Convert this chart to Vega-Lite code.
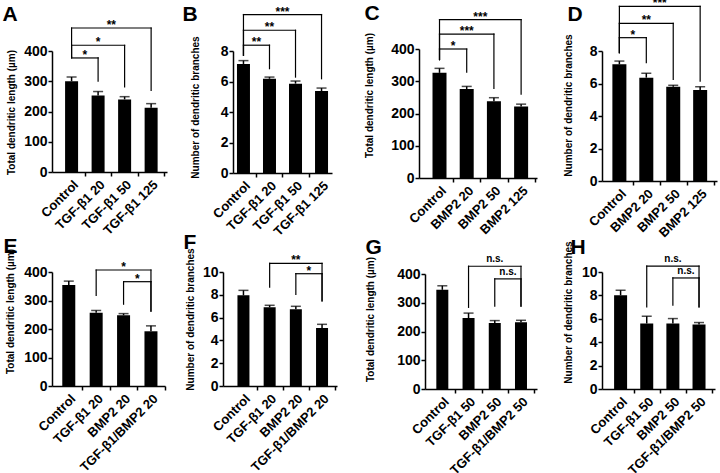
{
"$schema": "https://vega.github.io/schema/vega-lite/v6.json",
"padding": {"left": 2, "top": -3, "right": 2, "bottom": 2},
"config": {
  "font": "Liberation Sans",
  "view": {"stroke": null},
  "axis": {"domainColor": "black", "domainWidth": 1.5, "tickColor": "black", "tickWidth": 1.5, "tickSize": 4, "labelColor": "black", "labelFontWeight": "bold", "titleColor": "black", "titleFontWeight": "bold", "titleFontSize": 10, "grid": false, "labelOverlap": false, "tickCount": 20},
  "axisY": {"labelFontSize": 14, "labelPadding": 1, "titleBaseline": "middle", "titleAlign": "center", "titleAngle": 270, "labelOverlap": false, "tickCount": 20},
  "axisX": {"labelFontSize": 13, "labelAngle": -45, "labelAlign": "right", "labelBaseline": "top", "labelPadding": 2, "labelOverlap": false, "tickCount": 20}
},
"datasets": {
  "A": [{"i":1,"g":"Control","m":300,"top":314},{"i":2,"g":"TGF-β1 20","m":253,"top":266},{"i":3,"g":"TGF-β1 50","m":240,"top":249},{"i":4,"g":"TGF-β1 125","m":212,"top":226}],
  "kA": [{"a":1,"b":2,"y":377,"ya":380,"yb":300,"s":"*"},{"a":1,"b":3,"y":419,"ya":380,"yb":281,"s":"*"},{"a":1,"b":4,"y":476,"ya":380,"yb":270,"s":"**"}],
  "B": [{"i":1,"g":"Control","m":7.15,"top":7.37},{"i":2,"g":"TGF-β1 20","m":6.18,"top":6.29},{"i":3,"g":"TGF-β1 50","m":5.86,"top":6.03},{"i":4,"g":"TGF-β1 125","m":5.37,"top":5.57}],
  "kB": [{"a":1,"b":2,"y":8.38,"ya":7.72,"yb":6.84,"s":"**"},{"a":1,"b":3,"y":9.36,"ya":7.72,"yb":6.29,"s":"**"},{"a":1,"b":4,"y":10.39,"ya":7.72,"yb":6.18,"s":"***"}],
  "C": [{"i":1,"g":"Control","m":326,"top":340},{"i":2,"g":"BMP2 20","m":276,"top":284},{"i":3,"g":"BMP2 50","m":238,"top":249},{"i":4,"g":"BMP2 125","m":222,"top":229}],
  "kC": [{"a":1,"b":2,"y":400,"ya":367,"yb":328,"s":"*"},{"a":1,"b":3,"y":446,"ya":367,"yb":278,"s":"***"},{"a":1,"b":4,"y":491,"ya":367,"yb":260,"s":"***"}],
  "D": [{"i":1,"g":"Control","m":7.18,"top":7.38},{"i":2,"g":"BMP2 20","m":6.36,"top":6.63},{"i":3,"g":"BMP2 50","m":5.8,"top":5.89},{"i":4,"g":"BMP2 125","m":5.6,"top":5.8}],
  "kD": [{"a":1,"b":2,"y":8.82,"ya":7.9,"yb":7.28,"s":"*"},{"a":1,"b":3,"y":9.7,"ya":7.9,"yb":6.26,"s":"**"},{"a":1,"b":4,"y":10.75,"ya":7.9,"yb":6.15,"s":"***"}],
  "E": [{"i":1,"g":"Control","m":354,"top":368},{"i":2,"g":"TGF-β1 20","m":257,"top":265},{"i":3,"g":"BMP2 20","m":248,"top":254},{"i":4,"g":"TGF-β1/BMP2 20","m":192,"top":211}],
  "kE": [{"a":2,"b":4,"y":407,"ya":318,"yb":263,"s":"*"},{"a":3,"b":4,"y":366,"ya":287,"yb":263,"s":"*"}],
  "F": [{"i":1,"g":"Control","m":7.95,"top":8.39},{"i":2,"g":"TGF-β1 20","m":6.9,"top":7.08},{"i":3,"g":"BMP2 20","m":6.73,"top":6.99},{"i":4,"g":"TGF-β1/BMP2 20","m":5.09,"top":5.41}],
  "kF": [{"a":2,"b":4,"y":10.76,"ya":8.68,"yb":7.46,"s":"**"},{"a":3,"b":4,"y":9.85,"ya":8.04,"yb":7.46,"s":"*"}],
  "G": [{"i":1,"g":"Control","m":345,"top":359},{"i":2,"g":"TGF-β1 50","m":247,"top":264},{"i":3,"g":"BMP2 50","m":230,"top":238},{"i":4,"g":"TGF-β1/BMP2 50","m":232,"top":239}],
  "kG": [{"a":2,"b":4,"y":427,"ya":284,"yb":288,"s":"n.s."},{"a":3,"b":4,"y":383,"ya":288,"yb":288,"s":"n.s."}],
  "H": [{"i":1,"g":"Control","m":8.01,"top":8.44},{"i":2,"g":"TGF-β1 50","m":5.6,"top":6.22},{"i":3,"g":"BMP2 50","m":5.6,"top":6.02},{"i":4,"g":"TGF-β1/BMP2 50","m":5.51,"top":5.68}],
  "kH": [{"a":2,"b":4,"y":10.51,"ya":7.02,"yb":7.02,"s":"n.s."},{"a":3,"b":4,"y":9.49,"ya":7.16,"yb":7.02,"s":"n.s."}]
},
"columns": 4,
"spacing": {"row": 91, "column": 50},
"bounds": "flush",
"align": "each",
"concat": [
{
 "width": 121, "height": 121,
 "resolve": {"axis": {"x": "independent", "y": "independent"}},
 "layer": [
  {"data": {"name": "A"}, "mark": {"type": "bar", "size": 13, "color": "black"},
   "encoding": {
    "x": {"field": "i", "type": "quantitative", "scale": {"domain": [0.45, 4.41], "range": [0, 115], "nice": false, "zero": false}, "axis": {"title": null, "labelOverlap": false, "tickCount": 20, "values": [1,1.5,2,2.5,3,3.5,4,4.5], "labelExpr": "datum.value == 1 ? 'Control' : datum.value == 2 ? 'TGF-β1 20' : datum.value == 3 ? 'TGF-β1 50' : datum.value == 4 ? 'TGF-β1 125' : ''", "tickOpacity": {"condition": {"test": "datum.value % 1 == 0", "value": 0}, "value": 1}}},
    "y": {"field": "m", "type": "quantitative", "scale": {"domain": [0, 400], "nice": false}, "axis": {"title": "Total dendritic length (µm)", "format": "d", "labelOverlap": false, "tickCount": 20, "values": [0,100,200,300,400], "titleX": -41, "titleY": 61}}
   }},
  {"data": {"name": "A"}, "mark": {"type": "rule", "color": "black", "strokeWidth": 1.5}, "encoding": {"x": {"field": "i", "type": "quantitative", "axis": {"orient": "top", "title": "A", "domain": false, "ticks": false, "labels": false, "titleX": -50, "titleY": -31, "titleFontSize": 21, "titleAlign": "left", "titleBaseline": "alphabetic", "titleAngle": 0}}, "y": {"field": "m", "type": "quantitative", "axis": null}, "y2": {"field": "top"}}},
  {"data": {"name": "A"}, "mark": {"type": "tick", "orient": "horizontal", "color": "black", "size": 10, "thickness": 1.5}, "encoding": {"x": {"field": "i", "type": "quantitative", "axis": null}, "y": {"field": "top", "type": "quantitative", "axis": null}}},
  {"data": {"name": "kA"}, "mark": {"type": "rule", "color": "black", "strokeWidth": 1.2, "strokeCap": "square"}, "encoding": {"x": {"field": "a", "type": "quantitative", "axis": null}, "x2": {"field": "b"}, "y": {"field": "y", "type": "quantitative", "axis": null}}},
  {"data": {"name": "kA"}, "mark": {"type": "rule", "color": "black", "strokeWidth": 1.2, "strokeCap": "square"}, "encoding": {"x": {"field": "a", "type": "quantitative", "axis": null}, "y": {"field": "y", "type": "quantitative", "axis": null}, "y2": {"field": "ya"}}},
  {"data": {"name": "kA"}, "mark": {"type": "rule", "color": "black", "strokeWidth": 1.2, "strokeCap": "square"}, "encoding": {"x": {"field": "b", "type": "quantitative", "axis": null}, "y": {"field": "y", "type": "quantitative", "axis": null}, "y2": {"field": "yb"}}},
  {"data": {"name": "kA"}, "transform": [{"calculate": "(datum.a + datum.b) / 2", "as": "mid"}], "mark": {"type": "text", "fontSize": 12, "fontWeight": "bold", "baseline": "alphabetic", "dy": 1, "color": "black"}, "encoding": {"x": {"field": "mid", "type": "quantitative", "axis": null}, "y": {"field": "y", "type": "quantitative", "axis": null}, "text": {"field": "s"}}}
 ]
},
{
 "width": 146, "height": 122,
 "resolve": {"axis": {"x": "independent", "y": "independent"}},
 "layer": [
  {"data": {"name": "B"}, "mark": {"type": "bar", "size": 13, "color": "black"},
   "encoding": {
    "x": {"field": "i", "type": "quantitative", "scale": {"domain": [0.79, 4.21], "range": [10, 109], "nice": false, "zero": false}, "axis": {"title": null, "labelOverlap": false, "tickCount": 20, "values": [1,1.5,2,2.5,3,3.5,4,4.5], "labelExpr": "datum.value == 1 ? 'Control' : datum.value == 2 ? 'TGF-β1 20' : datum.value == 3 ? 'TGF-β1 50' : datum.value == 4 ? 'TGF-β1 125' : ''", "tickOpacity": {"condition": {"test": "datum.value % 1 == 0", "value": 0}, "value": 1}}},
    "y": {"field": "m", "type": "quantitative", "scale": {"domain": [0, 8], "nice": false}, "axis": {"title": "Number of  dendritic branches", "format": "d", "labelOverlap": false, "tickCount": 20, "values": [0,2,4,6,8], "titleX": -38, "titleY": 56, "offset": -10}}
   }},
  {"data": {"name": "B"}, "mark": {"type": "rule", "color": "black", "strokeWidth": 1.5}, "encoding": {"x": {"field": "i", "type": "quantitative", "axis": {"orient": "top", "title": "B", "domain": false, "ticks": false, "labels": false, "titleX": -41, "titleY": -31, "titleFontSize": 21, "titleAlign": "left", "titleBaseline": "alphabetic", "titleAngle": 0}}, "y": {"field": "m", "type": "quantitative", "axis": null}, "y2": {"field": "top"}}},
  {"data": {"name": "B"}, "mark": {"type": "tick", "orient": "horizontal", "color": "black", "size": 10, "thickness": 1.5}, "encoding": {"x": {"field": "i", "type": "quantitative", "axis": null}, "y": {"field": "top", "type": "quantitative", "axis": null}}},
  {"data": {"name": "kB"}, "mark": {"type": "rule", "color": "black", "strokeWidth": 1.2, "strokeCap": "square"}, "encoding": {"x": {"field": "a", "type": "quantitative", "axis": null}, "x2": {"field": "b"}, "y": {"field": "y", "type": "quantitative", "axis": null}}},
  {"data": {"name": "kB"}, "mark": {"type": "rule", "color": "black", "strokeWidth": 1.2, "strokeCap": "square"}, "encoding": {"x": {"field": "a", "type": "quantitative", "axis": null}, "y": {"field": "y", "type": "quantitative", "axis": null}, "y2": {"field": "ya"}}},
  {"data": {"name": "kB"}, "mark": {"type": "rule", "color": "black", "strokeWidth": 1.2, "strokeCap": "square"}, "encoding": {"x": {"field": "b", "type": "quantitative", "axis": null}, "y": {"field": "y", "type": "quantitative", "axis": null}, "y2": {"field": "yb"}}},
  {"data": {"name": "kB"}, "transform": [{"calculate": "(datum.a + datum.b) / 2", "as": "mid"}], "mark": {"type": "text", "fontSize": 12, "fontWeight": "bold", "baseline": "alphabetic", "dy": 1, "color": "black"}, "encoding": {"x": {"field": "mid", "type": "quantitative", "axis": null}, "y": {"field": "y", "type": "quantitative", "axis": null}, "text": {"field": "s"}}}
 ]
},
{
 "width": 133, "height": 127,
 "resolve": {"axis": {"x": "independent", "y": "independent"}},
 "layer": [
  {"data": {"name": "C"}, "mark": {"type": "bar", "size": 14, "color": "black"},
   "encoding": {
    "x": {"field": "i", "type": "quantitative", "scale": {"domain": [0.43, 4.40], "range": [0, 118], "nice": false, "zero": false}, "axis": {"title": null, "labelOverlap": false, "tickCount": 20, "values": [1,1.5,2,2.5,3,3.5,4,4.5], "labelExpr": "datum.value == 1 ? 'Control' : datum.value == 2 ? 'BMP2 20' : datum.value == 3 ? 'BMP2 50' : datum.value == 4 ? 'BMP2 125' : ''", "tickOpacity": {"condition": {"test": "datum.value % 1 == 0", "value": 0}, "value": 1}}},
    "y": {"field": "m", "type": "quantitative", "scale": {"domain": [0, 400], "nice": false, "range": [127, -2]}, "axis": {"title": "Total dendritic length (µm)", "format": "d", "labelOverlap": false, "tickCount": 20, "values": [0,100,200,300,400], "titleX": -50, "titleY": 44}}
   }},
  {"data": {"name": "C"}, "mark": {"type": "rule", "color": "black", "strokeWidth": 1.5}, "encoding": {"x": {"field": "i", "type": "quantitative", "axis": {"orient": "top", "title": "C", "domain": false, "ticks": false, "labels": false, "titleX": -55, "titleY": -32, "titleFontSize": 21, "titleAlign": "left", "titleBaseline": "alphabetic", "titleAngle": 0}}, "y": {"field": "m", "type": "quantitative", "axis": null}, "y2": {"field": "top"}}},
  {"data": {"name": "C"}, "mark": {"type": "tick", "orient": "horizontal", "color": "black", "size": 10, "thickness": 1.5}, "encoding": {"x": {"field": "i", "type": "quantitative", "axis": null}, "y": {"field": "top", "type": "quantitative", "axis": null}}},
  {"data": {"name": "kC"}, "mark": {"type": "rule", "color": "black", "strokeWidth": 1.2, "strokeCap": "square"}, "encoding": {"x": {"field": "a", "type": "quantitative", "axis": null}, "x2": {"field": "b"}, "y": {"field": "y", "type": "quantitative", "axis": null}}},
  {"data": {"name": "kC"}, "mark": {"type": "rule", "color": "black", "strokeWidth": 1.2, "strokeCap": "square"}, "encoding": {"x": {"field": "a", "type": "quantitative", "axis": null}, "y": {"field": "y", "type": "quantitative", "axis": null}, "y2": {"field": "ya"}}},
  {"data": {"name": "kC"}, "mark": {"type": "rule", "color": "black", "strokeWidth": 1.2, "strokeCap": "square"}, "encoding": {"x": {"field": "b", "type": "quantitative", "axis": null}, "y": {"field": "y", "type": "quantitative", "axis": null}, "y2": {"field": "yb"}}},
  {"data": {"name": "kC"}, "transform": [{"calculate": "(datum.a + datum.b) / 2", "as": "mid"}], "mark": {"type": "text", "fontSize": 12, "fontWeight": "bold", "baseline": "alphabetic", "dy": 1, "color": "black"}, "encoding": {"x": {"field": "mid", "type": "quantitative", "axis": null}, "y": {"field": "y", "type": "quantitative", "axis": null}, "text": {"field": "s"}}}
 ]
},
{
 "width": 118, "height": 130,
 "resolve": {"axis": {"x": "independent", "y": "independent"}},
 "layer": [
  {"data": {"name": "D"}, "mark": {"type": "bar", "size": 14, "color": "black"},
   "encoding": {
    "x": {"field": "i", "type": "quantitative", "scale": {"domain": [0.54, 4.44], "range": [0, 115], "nice": false, "zero": false}, "axis": {"title": null, "labelOverlap": false, "tickCount": 20, "values": [1,1.5,2,2.5,3,3.5,4,4.5], "labelExpr": "datum.value == 1 ? 'Control' : datum.value == 2 ? 'BMP2 20' : datum.value == 3 ? 'BMP2 50' : datum.value == 4 ? 'BMP2 125' : ''", "tickOpacity": {"condition": {"test": "datum.value % 1 == 0", "value": 0}, "value": 1}}},
    "y": {"field": "m", "type": "quantitative", "scale": {"domain": [0, 8], "nice": false}, "axis": {"title": "Number of  dendritic branches", "format": "d", "labelOverlap": false, "tickCount": 20, "values": [0,2,4,6,8], "titleX": -34, "titleY": 54}}
   }},
  {"data": {"name": "D"}, "mark": {"type": "rule", "color": "black", "strokeWidth": 1.5}, "encoding": {"x": {"field": "i", "type": "quantitative", "axis": {"orient": "top", "title": "D", "domain": false, "ticks": false, "labels": false, "titleX": -35, "titleY": -31, "titleFontSize": 21, "titleAlign": "left", "titleBaseline": "alphabetic", "titleAngle": 0}}, "y": {"field": "m", "type": "quantitative", "axis": null}, "y2": {"field": "top"}}},
  {"data": {"name": "D"}, "mark": {"type": "tick", "orient": "horizontal", "color": "black", "size": 10, "thickness": 1.5}, "encoding": {"x": {"field": "i", "type": "quantitative", "axis": null}, "y": {"field": "top", "type": "quantitative", "axis": null}}},
  {"data": {"name": "kD"}, "mark": {"type": "rule", "color": "black", "strokeWidth": 1.2, "strokeCap": "square"}, "encoding": {"x": {"field": "a", "type": "quantitative", "axis": null}, "x2": {"field": "b"}, "y": {"field": "y", "type": "quantitative", "axis": null}}},
  {"data": {"name": "kD"}, "mark": {"type": "rule", "color": "black", "strokeWidth": 1.2, "strokeCap": "square"}, "encoding": {"x": {"field": "a", "type": "quantitative", "axis": null}, "y": {"field": "y", "type": "quantitative", "axis": null}, "y2": {"field": "ya"}}},
  {"data": {"name": "kD"}, "mark": {"type": "rule", "color": "black", "strokeWidth": 1.2, "strokeCap": "square"}, "encoding": {"x": {"field": "b", "type": "quantitative", "axis": null}, "y": {"field": "y", "type": "quantitative", "axis": null}, "y2": {"field": "yb"}}},
  {"data": {"name": "kD"}, "transform": [{"calculate": "(datum.a + datum.b) / 2", "as": "mid"}], "mark": {"type": "text", "fontSize": 12, "fontWeight": "bold", "baseline": "alphabetic", "dy": 1, "color": "black"}, "encoding": {"x": {"field": "mid", "type": "quantitative", "axis": null}, "y": {"field": "y", "type": "quantitative", "axis": null}, "text": {"field": "s"}}}
 ]
},
{
 "width": 121, "height": 114,
 "resolve": {"axis": {"x": "independent", "y": "independent"}},
 "layer": [
  {"data": {"name": "E"}, "mark": {"type": "bar", "size": 13, "color": "black"},
   "encoding": {
    "x": {"field": "i", "type": "quantitative", "scale": {"domain": [0.57, 4.33], "range": [0, 113], "nice": false, "zero": false}, "axis": {"title": null, "labelOverlap": false, "tickCount": 20, "values": [1,1.5,2,2.5,3,3.5,4,4.5], "labelExpr": "datum.value == 1 ? 'Control' : datum.value == 2 ? 'TGF-β1 20' : datum.value == 3 ? 'BMP2 20' : datum.value == 4 ? 'TGF-β1/BMP2 20' : ''", "tickOpacity": {"condition": {"test": "datum.value % 1 == 0", "value": 0}, "value": 1}}},
    "y": {"field": "m", "type": "quantitative", "scale": {"domain": [0, 400], "nice": false}, "axis": {"title": "Total dendritic length (µm)", "format": "d", "labelOverlap": false, "tickCount": 20, "values": [0,100,200,300,400], "titleX": -42, "titleY": 39}}
   }},
  {"data": {"name": "E"}, "mark": {"type": "rule", "color": "black", "strokeWidth": 1.5}, "encoding": {"x": {"field": "i", "type": "quantitative", "axis": {"orient": "top", "title": "E", "domain": false, "ticks": false, "labels": false, "titleX": -49, "titleY": -20, "titleFontSize": 21, "titleAlign": "left", "titleBaseline": "alphabetic", "titleAngle": 0}}, "y": {"field": "m", "type": "quantitative", "axis": null}, "y2": {"field": "top"}}},
  {"data": {"name": "E"}, "mark": {"type": "tick", "orient": "horizontal", "color": "black", "size": 10, "thickness": 1.5}, "encoding": {"x": {"field": "i", "type": "quantitative", "axis": null}, "y": {"field": "top", "type": "quantitative", "axis": null}}},
  {"data": {"name": "kE"}, "mark": {"type": "rule", "color": "black", "strokeWidth": 1.2, "strokeCap": "square"}, "encoding": {"x": {"field": "a", "type": "quantitative", "axis": null}, "x2": {"field": "b"}, "y": {"field": "y", "type": "quantitative", "axis": null}}},
  {"data": {"name": "kE"}, "mark": {"type": "rule", "color": "black", "strokeWidth": 1.2, "strokeCap": "square"}, "encoding": {"x": {"field": "a", "type": "quantitative", "axis": null}, "y": {"field": "y", "type": "quantitative", "axis": null}, "y2": {"field": "ya"}}},
  {"data": {"name": "kE"}, "mark": {"type": "rule", "color": "black", "strokeWidth": 1.2, "strokeCap": "square"}, "encoding": {"x": {"field": "b", "type": "quantitative", "axis": null}, "y": {"field": "y", "type": "quantitative", "axis": null}, "y2": {"field": "yb"}}},
  {"data": {"name": "kE"}, "transform": [{"calculate": "(datum.a + datum.b) / 2", "as": "mid"}], "mark": {"type": "text", "fontSize": 12, "fontWeight": "bold", "baseline": "alphabetic", "dy": 1, "color": "black"}, "encoding": {"x": {"field": "mid", "type": "quantitative", "axis": null}, "y": {"field": "y", "type": "quantitative", "axis": null}, "text": {"field": "s"}}}
 ]
},
{
 "width": 146, "height": 114,
 "resolve": {"axis": {"x": "independent", "y": "independent"}},
 "layer": [
  {"data": {"name": "F"}, "mark": {"type": "bar", "size": 12, "color": "black"},
   "encoding": {
    "x": {"field": "i", "type": "quantitative", "scale": {"domain": [0.41, 4.38], "range": [0, 114], "nice": false, "zero": false}, "axis": {"title": null, "labelOverlap": false, "tickCount": 20, "values": [1,1.5,2,2.5,3,3.5,4,4.5], "labelExpr": "datum.value == 1 ? 'Control' : datum.value == 2 ? 'TGF-β1 20' : datum.value == 3 ? 'BMP2 20' : datum.value == 4 ? 'TGF-β1/BMP2 20' : ''", "tickOpacity": {"condition": {"test": "datum.value % 1 == 0", "value": 0}, "value": 1}}},
    "y": {"field": "m", "type": "quantitative", "scale": {"domain": [0, 10], "nice": false}, "axis": {"title": "Number of  dendritic branches", "format": "d", "labelOverlap": false, "tickCount": 20, "values": [0,2,4,6,8,10], "titleX": -33, "titleY": 47}}
   }},
  {"data": {"name": "F"}, "mark": {"type": "rule", "color": "black", "strokeWidth": 1.5}, "encoding": {"x": {"field": "i", "type": "quantitative", "axis": {"orient": "top", "title": "F", "domain": false, "ticks": false, "labels": false, "titleX": -40, "titleY": -24, "titleFontSize": 21, "titleAlign": "left", "titleBaseline": "alphabetic", "titleAngle": 0}}, "y": {"field": "m", "type": "quantitative", "axis": null}, "y2": {"field": "top"}}},
  {"data": {"name": "F"}, "mark": {"type": "tick", "orient": "horizontal", "color": "black", "size": 10, "thickness": 1.5}, "encoding": {"x": {"field": "i", "type": "quantitative", "axis": null}, "y": {"field": "top", "type": "quantitative", "axis": null}}},
  {"data": {"name": "kF"}, "mark": {"type": "rule", "color": "black", "strokeWidth": 1.2, "strokeCap": "square"}, "encoding": {"x": {"field": "a", "type": "quantitative", "axis": null}, "x2": {"field": "b"}, "y": {"field": "y", "type": "quantitative", "axis": null}}},
  {"data": {"name": "kF"}, "mark": {"type": "rule", "color": "black", "strokeWidth": 1.2, "strokeCap": "square"}, "encoding": {"x": {"field": "a", "type": "quantitative", "axis": null}, "y": {"field": "y", "type": "quantitative", "axis": null}, "y2": {"field": "ya"}}},
  {"data": {"name": "kF"}, "mark": {"type": "rule", "color": "black", "strokeWidth": 1.2, "strokeCap": "square"}, "encoding": {"x": {"field": "b", "type": "quantitative", "axis": null}, "y": {"field": "y", "type": "quantitative", "axis": null}, "y2": {"field": "yb"}}},
  {"data": {"name": "kF"}, "transform": [{"calculate": "(datum.a + datum.b) / 2", "as": "mid"}], "mark": {"type": "text", "fontSize": 12, "fontWeight": "bold", "baseline": "alphabetic", "dy": 1, "color": "black"}, "encoding": {"x": {"field": "mid", "type": "quantitative", "axis": null}, "y": {"field": "y", "type": "quantitative", "axis": null}, "text": {"field": "s"}}}
 ]
},
{
 "width": 133, "height": 117,
 "resolve": {"axis": {"x": "independent", "y": "independent"}},
 "layer": [
  {"data": {"name": "G"}, "mark": {"type": "bar", "size": 12, "color": "black"},
   "encoding": {
    "x": {"field": "i", "type": "quantitative", "scale": {"domain": [0.53, 4.42], "range": [6, 118], "nice": false, "zero": false}, "axis": {"title": null, "labelOverlap": false, "tickCount": 20, "values": [1,1.5,2,2.5,3,3.5,4,4.5], "labelExpr": "datum.value == 1 ? 'Control' : datum.value == 2 ? 'TGF-β1 50' : datum.value == 3 ? 'BMP2 50' : datum.value == 4 ? 'TGF-β1/BMP2 50' : ''", "tickOpacity": {"condition": {"test": "datum.value % 1 == 0", "value": 0}, "value": 1}}},
    "y": {"field": "m", "type": "quantitative", "scale": {"domain": [0, 400], "nice": false, "range": [117, 2]}, "axis": {"title": "Total dendritic length (µm)", "format": "d", "labelOverlap": false, "tickCount": 20, "values": [0,100,200,300,400], "titleX": -55, "titleY": 47, "offset": -6}}
   }},
  {"data": {"name": "G"}, "mark": {"type": "rule", "color": "black", "strokeWidth": 1.5}, "encoding": {"x": {"field": "i", "type": "quantitative", "axis": {"orient": "top", "title": "G", "domain": false, "ticks": false, "labels": false, "titleX": -54, "titleY": -19, "titleFontSize": 21, "titleAlign": "left", "titleBaseline": "alphabetic", "titleAngle": 0}}, "y": {"field": "m", "type": "quantitative", "axis": null}, "y2": {"field": "top"}}},
  {"data": {"name": "G"}, "mark": {"type": "tick", "orient": "horizontal", "color": "black", "size": 10, "thickness": 1.5}, "encoding": {"x": {"field": "i", "type": "quantitative", "axis": null}, "y": {"field": "top", "type": "quantitative", "axis": null}}},
  {"data": {"name": "kG"}, "mark": {"type": "rule", "color": "black", "strokeWidth": 1.2, "strokeCap": "square"}, "encoding": {"x": {"field": "a", "type": "quantitative", "axis": null}, "x2": {"field": "b"}, "y": {"field": "y", "type": "quantitative", "axis": null}}},
  {"data": {"name": "kG"}, "mark": {"type": "rule", "color": "black", "strokeWidth": 1.2, "strokeCap": "square"}, "encoding": {"x": {"field": "a", "type": "quantitative", "axis": null}, "y": {"field": "y", "type": "quantitative", "axis": null}, "y2": {"field": "ya"}}},
  {"data": {"name": "kG"}, "mark": {"type": "rule", "color": "black", "strokeWidth": 1.2, "strokeCap": "square"}, "encoding": {"x": {"field": "b", "type": "quantitative", "axis": null}, "y": {"field": "y", "type": "quantitative", "axis": null}, "y2": {"field": "yb"}}},
  {"data": {"name": "kG"}, "transform": [{"calculate": "(datum.a + datum.b) / 2", "as": "mid"}], "mark": {"type": "text", "fontSize": 10, "fontWeight": "bold", "baseline": "alphabetic", "dy": -4, "color": "black"}, "encoding": {"x": {"field": "mid", "type": "quantitative", "axis": null}, "y": {"field": "y", "type": "quantitative", "axis": null}, "text": {"field": "s"}}}
 ]
},
{
 "width": 118, "height": 117,
 "resolve": {"axis": {"x": "independent", "y": "independent"}},
 "layer": [
  {"data": {"name": "H"}, "mark": {"type": "bar", "size": 13, "color": "black"},
   "encoding": {
    "x": {"field": "i", "type": "quantitative", "scale": {"domain": [0.48, 4.42], "range": [0, 113], "nice": false, "zero": false}, "axis": {"title": null, "labelOverlap": false, "tickCount": 20, "values": [1,1.5,2,2.5,3,3.5,4,4.5], "labelExpr": "datum.value == 1 ? 'Control' : datum.value == 2 ? 'TGF-β1 50' : datum.value == 3 ? 'BMP2 50' : datum.value == 4 ? 'TGF-β1/BMP2 50' : ''", "tickOpacity": {"condition": {"test": "datum.value % 1 == 0", "value": 0}, "value": 1}}},
    "y": {"field": "m", "type": "quantitative", "scale": {"domain": [0, 10], "nice": false}, "axis": {"title": "Number of  dendritic branches", "format": "d", "labelOverlap": false, "tickCount": 20, "values": [0,2,4,6,8,10], "titleX": -34, "titleY": 40}}
   }},
  {"data": {"name": "H"}, "mark": {"type": "rule", "color": "black", "strokeWidth": 1.5}, "encoding": {"x": {"field": "i", "type": "quantitative", "axis": {"orient": "top", "title": "H", "domain": false, "ticks": false, "labels": false, "titleX": -32, "titleY": -19, "titleFontSize": 21, "titleAlign": "left", "titleBaseline": "alphabetic", "titleAngle": 0}}, "y": {"field": "m", "type": "quantitative", "axis": null}, "y2": {"field": "top"}}},
  {"data": {"name": "H"}, "mark": {"type": "tick", "orient": "horizontal", "color": "black", "size": 10, "thickness": 1.5}, "encoding": {"x": {"field": "i", "type": "quantitative", "axis": null}, "y": {"field": "top", "type": "quantitative", "axis": null}}},
  {"data": {"name": "kH"}, "mark": {"type": "rule", "color": "black", "strokeWidth": 1.2, "strokeCap": "square"}, "encoding": {"x": {"field": "a", "type": "quantitative", "axis": null}, "x2": {"field": "b"}, "y": {"field": "y", "type": "quantitative", "axis": null}}},
  {"data": {"name": "kH"}, "mark": {"type": "rule", "color": "black", "strokeWidth": 1.2, "strokeCap": "square"}, "encoding": {"x": {"field": "a", "type": "quantitative", "axis": null}, "y": {"field": "y", "type": "quantitative", "axis": null}, "y2": {"field": "ya"}}},
  {"data": {"name": "kH"}, "mark": {"type": "rule", "color": "black", "strokeWidth": 1.2, "strokeCap": "square"}, "encoding": {"x": {"field": "b", "type": "quantitative", "axis": null}, "y": {"field": "y", "type": "quantitative", "axis": null}, "y2": {"field": "yb"}}},
  {"data": {"name": "kH"}, "transform": [{"calculate": "(datum.a + datum.b) / 2", "as": "mid"}], "mark": {"type": "text", "fontSize": 10, "fontWeight": "bold", "baseline": "alphabetic", "dy": -4, "color": "black"}, "encoding": {"x": {"field": "mid", "type": "quantitative", "axis": null}, "y": {"field": "y", "type": "quantitative", "axis": null}, "text": {"field": "s"}}}
 ]
}
]
}
